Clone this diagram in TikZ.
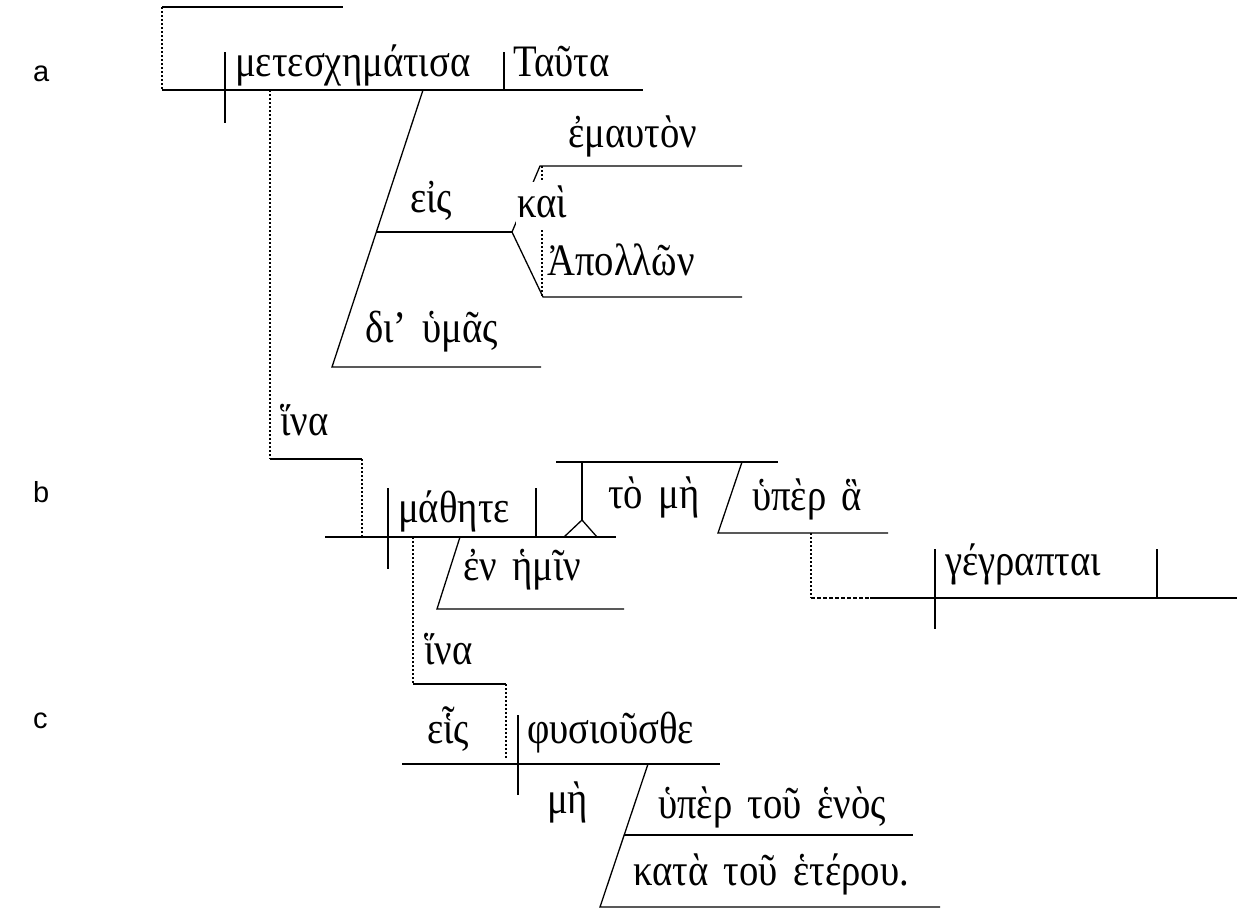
\documentclass[tikz,border=0pt]{standalone}
\usepackage{fontspec}
\setmainfont{Liberation Serif}
\newfontfamily\gkfont[FakeStretch=0.86,WordSpace=1.6]{Liberation Serif}
\newfontfamily\labelfont{Liberation Sans}
\begin{document}
\begin{tikzpicture}[x=1pt,y=-1pt,
  ln/.style={line width=1.3pt},
  dotln/.style={line width=2pt,dash pattern=on 2pt off 2pt},
  dashln/.style={line width=1.5pt,dash pattern=on 4pt off 2pt},
  gk/.style={anchor=base west,inner sep=0pt,font=\gkfont\fontsize{45}{50}\selectfont},
  lab/.style={anchor=base west,inner sep=0pt,font=\labelfont\fontsize{29}{32}\selectfont}]
\useasboundingbox (0,0) rectangle (1241,910);
% labels
\node[lab] (la) at (33,81) {a};
\node[lab] (lb) at (33,502) {b};
\node[lab] (lc) at (33,728) {c};
% ---------- clause a ----------
\draw[ln] (162,7) -- (343,7);
\draw[dotln] (162,7) -- (162,90);
\draw[ln] (162,90) -- (643,90);
\draw[ln] (225,52) -- (225,123);
\draw[ln] (504,52) -- (504,90);
\draw[dotln] (270,90) -- (270,459);
\draw[ln] (270,459) -- (362,459);
\draw[dotln] (362,459) -- (362,537);
\draw[ln] (423,90) -- (332,367) -- (541,367);
\draw[ln] (376,232) -- (512,232);
\draw[ln] (512,232) -- (540,166) -- (742,166);
\draw[ln] (512,232) -- (543,297) -- (742,297);
\draw[dotln] (542,166) -- (542,297);
\fill[white] (516,182) rectangle (572,230);
\node[gk] (t1) at (235,76) {μετεσχημάτισα};
\node[gk] (t2) at (513,76) {Ταῦτα};
\node[gk] (t3) at (568,147) {ἐμαυτὸν};
\node[gk] (t4) at (410,212) {εἰς};
\node[gk] (t5) at (517,217) {καὶ};
\node[gk] (t6) at (547,275) {Ἀπολλῶν};
\node[gk] (t7) at (365,342) {δι’ ὑμᾶς};
\node[gk] (t8) at (280,435) {ἵνα};
% ---------- clause b ----------
\draw[ln] (325,537) -- (616,537);
\draw[ln] (388,488) -- (388,569);
\draw[ln] (536,488) -- (536,537);
\draw[ln] (556,462) -- (778,462);
\draw[ln] (582,462) -- (582,520);
\draw[ln] (564,537) -- (582,520) -- (597,537);
\draw[ln] (742,462) -- (718,533) -- (888,533);
\draw[ln] (460,537) -- (437,609) -- (624,609);
\draw[dotln] (811,533) -- (811,598);
\draw[dashln] (811,598) -- (870,598);
\draw[ln] (870,598) -- (1237,598);
\draw[ln] (935,549) -- (935,629);
\draw[ln] (1157,549) -- (1157,598);
\draw[dotln] (413,537) -- (413,684);
\draw[ln] (413,684) -- (506,684);
\draw[dotln] (506,684) -- (506,759);
\node[gk] (t9) at (398,522) {μάθητε};
\node[gk] (t10) at (608,508) {τὸ μὴ};
\node[gk] (t11) at (752,510) {ὑπὲρ ἃ};
\node[gk] (t12) at (463,580) {ἐν ἡμῖν};
\node[gk] (t13) at (945,575) {γέγραπται};
\node[gk] (t14) at (424,664) {ἵνα};
% ---------- clause c ----------
\draw[ln] (402,764) -- (720,764);
\draw[ln] (518,715) -- (518,795);
\draw[ln] (648,764) -- (600,907) -- (940,907);
\draw[ln] (624,835) -- (913,835);
\node[gk] (t15) at (427,743) {εἷς};
\node[gk] (t16) at (527,743) {φυσιοῦσθε};
\node[gk] (t17) at (547,813) {μὴ};
\node[gk] (t18) at (658,818) {ὑπὲρ τοῦ ἑνὸς};
\node[gk] (t19) at (633,885) {κατὰ τοῦ ἑτέρου.};
\end{tikzpicture}
\end{document}
